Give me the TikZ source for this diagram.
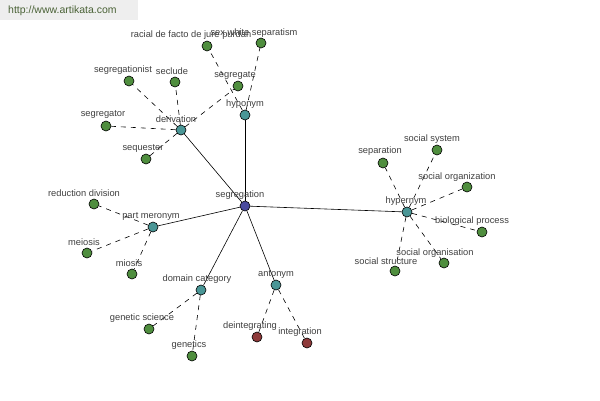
\documentclass[tikz,border=0pt]{standalone}
\usepackage{fontspec}
\setmainfont{Liberation Sans}
\definecolor{leafgreen}{HTML}{4F8E3E}
\definecolor{midteal}{HTML}{4A9696}
\definecolor{hubblue}{HTML}{4A4A9E}
\definecolor{antred}{HTML}{8E3A3A}
\definecolor{labelgray}{HTML}{404040}
\definecolor{headgray}{HTML}{EEEEEE}
\definecolor{headtext}{HTML}{4A6236}
\tikzset{
  dot/.style={circle, draw=black, line width=0.6pt, minimum size=10pt, inner sep=0pt},
  leaf/.style={dot, fill=leafgreen},
  mid/.style={dot, fill=midteal},
  hub/.style={dot, fill=hubblue},
  antleaf/.style={dot, fill=antred},
  lbl/.style={font=\fontsize{9.3}{11}\selectfont, text=labelgray, inner sep=0pt},
  solidedge/.style={draw=black, line width=0.6pt},
  dashededge/.style={draw=black, line width=0.6pt, dash pattern=on 5pt off 5pt},
}
\begin{document}
\begin{tikzpicture}[x=1pt,y=-1pt]
\useasboundingbox (0,0) rectangle (600,400);
\fill[white] (0,0) rectangle (600,400);
\fill[headgray] (0,0) rectangle (138,20);
\node[anchor=west, inner sep=0pt, font=\fontsize{10.5}{12}\selectfont, text=headtext] (url) at (8,11) {http://www.artikata.com};

% hub and level 1
\node[hub] (seg) at (245,206) {};
\node[mid] (hypo) at (245,115) {};
\node[mid] (deriv) at (181,130) {};
\node[mid] (part) at (153,227) {};
\node[mid] (dom) at (201,290) {};
\node[mid] (ant) at (276,285) {};
\node[mid] (hyper) at (407,212) {};

% leaves
\node[leaf] (racial) at (207,46) {};
\node[leaf] (sex) at (261,43) {};
\node[leaf] (segte) at (238,86) {};
\node[leaf] (segist) at (129,81) {};
\node[leaf] (secl) at (175,82) {};
\node[leaf] (segtor) at (106,126) {};
\node[leaf] (seq) at (146,159) {};
\node[leaf] (red) at (94,204) {};
\node[leaf] (mei) at (87,253) {};
\node[leaf] (mio) at (132,274) {};
\node[leaf] (gsci) at (149,329) {};
\node[leaf] (gen) at (192,356) {};
\node[antleaf] (deint) at (257,337) {};
\node[antleaf] (integ) at (307,343) {};
\node[leaf] (sepa) at (383,163) {};
\node[leaf] (ssys) at (437,150) {};
\node[leaf] (sorgz) at (467,187) {};
\node[leaf] (bio) at (482,232) {};
\node[leaf] (sorgs) at (444,263) {};
\node[leaf] (sstr) at (395,271) {};

% edges
\path[solidedge] (seg) -- (hypo);
\path[solidedge] (seg) -- (deriv);
\path[solidedge] (seg) -- (part);
\path[solidedge] (seg) -- (dom);
\path[solidedge] (seg) -- (ant);
\path[solidedge] (seg) -- (hyper);
\path[dashededge] (hypo) -- (racial);
\path[dashededge] (hypo) -- (sex);
\path[dashededge] (deriv) -- (segte);
\path[dashededge] (deriv) -- (segist);
\path[dashededge] (deriv) -- (secl);
\path[dashededge] (deriv) -- (segtor);
\path[dashededge] (deriv) -- (seq);
\path[dashededge] (part) -- (red);
\path[dashededge] (part) -- (mei);
\path[dashededge] (part) -- (mio);
\path[dashededge] (dom) -- (gsci);
\path[dashededge] (dom) -- (gen);
\path[dashededge] (ant) -- (deint);
\path[dashededge] (ant) -- (integ);
\path[dashededge] (hyper) -- (sepa);
\path[dashededge] (hyper) -- (ssys);
\path[dashededge] (hyper) -- (sorgz);
\path[dashededge] (hyper) -- (bio);
\path[dashededge] (hyper) -- (sorgs);
\path[dashededge] (hyper) -- (sstr);

% labels
\node[lbl] (Lseg) at (240,195) {segregation};
\node[lbl] (Lhypo) at (245,104) {hyponym};
\node[lbl] (Lderiv) at (176,119) {derivation};
\node[lbl] (Lpart) at (151,216) {part meronym};
\node[lbl] (Ldom) at (197,279) {domain category};
\node[lbl] (Lant) at (276,274) {antonym};
\node[lbl] (Lhyper) at (406,201) {hypernym};
\node[lbl] (Lracial) at (191,35) {racial de facto de jure purdah};
\node[lbl] (Lsex) at (254,33) {sex white separatism};
\node[lbl] (Lsegte) at (235,75) {segregate};
\node[lbl] (Lsegist) at (123,70) {segregationist};
\node[lbl] (Lsecl) at (172,71) {seclude};
\node[lbl] (Lsegtor) at (103,114) {segregator};
\node[lbl] (Lseq) at (143,148) {sequester};
\node[lbl] (Lred) at (84,193) {reduction division};
\node[lbl] (Lmei) at (84,242) {meiosis};
\node[lbl] (Lmio) at (129,263) {miosis};
\node[lbl] (Lgsci) at (142,318) {genetic science};
\node[lbl] (Lgen) at (189,345) {genetics};
\node[lbl] (Ldeint) at (250,326) {deintegrating};
\node[lbl] (Linteg) at (300,332) {integration};
\node[lbl] (Lsepa) at (380,151) {separation};
\node[lbl] (Lssys) at (432,139) {social system};
\node[lbl] (Lsorgz) at (457,177) {social organization};
\node[lbl] (Lbio) at (472,221) {biological process};
\node[lbl] (Lsorgs) at (435,253) {social organisation};
\node[lbl] (Lsstr) at (386,261) {social structure};
\end{tikzpicture}
\end{document}
